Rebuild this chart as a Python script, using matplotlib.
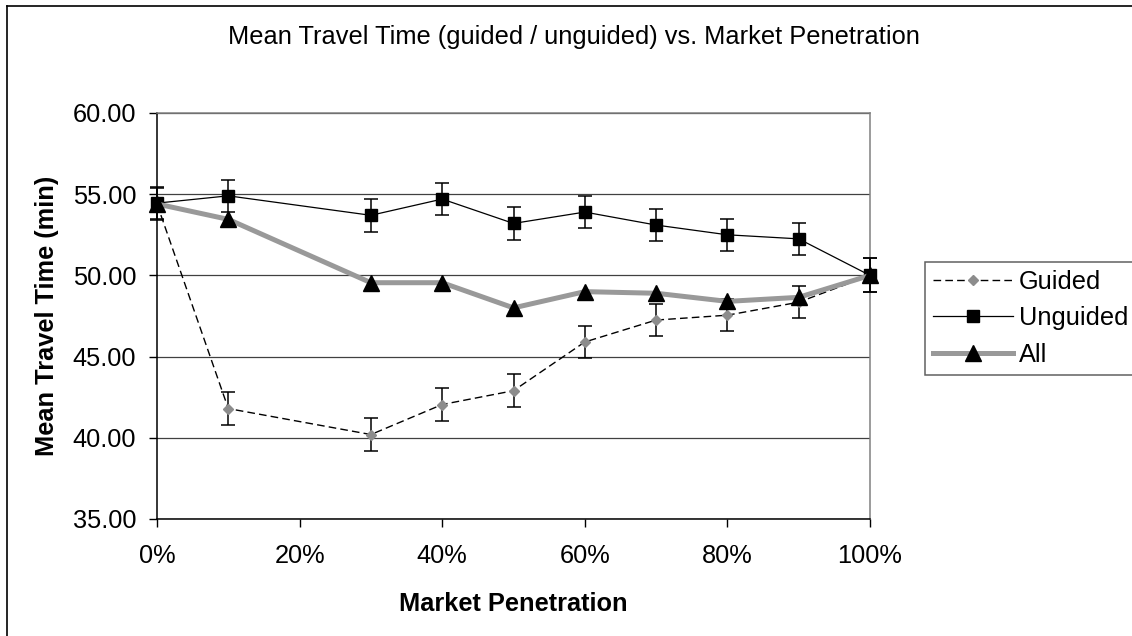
import matplotlib
matplotlib.use("Agg")
import matplotlib.pyplot as plt
from matplotlib.ticker import FuncFormatter, MultipleLocator

# ---- data ----
penetration = [0, 10, 30, 40, 50, 60, 70, 80, 90, 100]
guided = [54.40, 41.80, 40.20, 42.05, 42.90, 45.90, 47.25, 47.55, 48.35, 50.00]
guided_err = [1.00, 1.00, 1.00, 1.00, 1.00, 1.00, 1.00, 1.00, 1.00, 1.05]
unguided = [54.45, 54.90, 53.70, 54.70, 53.20, 53.90, 53.10, 52.50, 52.25, 50.00]
unguided_err = [1.00, 1.00, 1.00, 1.00, 1.00, 1.00, 1.00, 1.00, 1.00, 1.05]
all_vehicles = [54.40, 53.45, 49.55, 49.55, 48.00, 49.00, 48.90, 48.40, 48.65, 50.00]
series_names = ["Guided", "Unguided", "All"]
title = "Mean Travel Time (guided / unguided) vs. Market Penetration"
xlabel = "Market Penetration"
ylabel = "Mean Travel Time (min)"

plt.rcParams["font.family"] = ["Liberation Sans", "DejaVu Sans"]
FS = 18.3

W, H = 1132, 636
fig = plt.figure(figsize=(W / 100, H / 100), dpi=100)
fig.patch.set_facecolor("white")

# figure border (only left/top visible in the reference crop)
fig.add_artist(plt.Line2D([7 / W, 7 / W], [0, 1 - 6 / H], transform=fig.transFigure,
                          color="black", lw=1.2))
fig.add_artist(plt.Line2D([7 / W, 1], [1 - 6 / H, 1 - 6 / H], transform=fig.transFigure,
                          color="black", lw=1.2))

L, R, T, B = 157, 870, 113, 519
ax = fig.add_axes([L / W, 1 - B / H, (R - L) / W, (B - T) / H])

ax.set_xlim(0, 100)
ax.set_ylim(35, 60)
ax.xaxis.set_major_locator(MultipleLocator(20))
ax.yaxis.set_major_locator(MultipleLocator(5))
ax.xaxis.set_major_formatter(FuncFormatter(lambda v, p: f"{v:.0f}%"))
ax.yaxis.set_major_formatter(FuncFormatter(lambda v, p: f"{v:.2f}"))
ax.tick_params(axis="both", direction="out", length=6, width=1, color="black",
               labelsize=FS)
ax.tick_params(axis="x", pad=12)
ax.tick_params(axis="y", pad=9)
ax.grid(axis="y", color="#404040", lw=0.9)
ax.set_axisbelow(True)
for s in ["left", "bottom"]:
    ax.spines[s].set_color("black")
    ax.spines[s].set_linewidth(1.1)
ax.spines["right"].set_color("#808080")
ax.spines["right"].set_linewidth(1.1)
ax.spines["top"].set_color("#808080")
ax.spines["top"].set_linewidth(1.1)

# error bars
for vals, errs in [(guided, guided_err), (unguided, unguided_err)]:
    eb = ax.errorbar(penetration, vals, yerr=errs, fmt="none", ecolor="black",
                     elinewidth=1.1, capsize=4.7, capthick=1.1, zorder=3)
    for art in eb.lines[1]:
        art.set_clip_on(False)
    for art in eb.lines[2]:
        art.set_clip_on(False)

# series
l1, = ax.plot(penetration, guided, color="black", lw=1.0, dashes=(5.5, 3),
              marker="D", markersize=5.5, markerfacecolor="#8c8c8c",
              markeredgecolor="#8c8c8c", label=series_names[0], zorder=4)
l2, = ax.plot(penetration, unguided, color="black", lw=0.9,
              marker="s", markersize=8, markerfacecolor="black",
              markeredgecolor="black", label=series_names[1], zorder=4)
l3, = ax.plot(penetration, all_vehicles, color="#999999", lw=3.6,
              marker="^", markersize=12, markerfacecolor="black",
              markeredgecolor="black", label=series_names[2], zorder=5)
for ln in (l1, l2, l3):
    ln.set_clip_on(False)

leg = ax.legend(loc="upper left", bbox_to_anchor=(925 / W, 1 - 262 / H),
                bbox_transform=fig.transFigure, borderaxespad=0, fontsize=FS,
                frameon=True, fancybox=False, shadow=False, framealpha=1,
                edgecolor="#606060", handlelength=3.15, handletextpad=0.24,
                labelspacing=0.5, borderpad=0.3)
leg.get_frame().set_linewidth(1.1)

fig.text(574 / W, 1 - 37 / H, title, ha="center", va="center", fontsize=FS)
fig.text((L + R) / 2 / W, 1 - 604 / H, xlabel, ha="center", va="center",
         fontsize=FS, fontweight="bold")
fig.text(47 / W, 1 - (T + B) / 2 / H, ylabel, ha="center", va="center",
         rotation=90, fontsize=FS, fontweight="bold")

fig.savefig("out.png", dpi=100)
